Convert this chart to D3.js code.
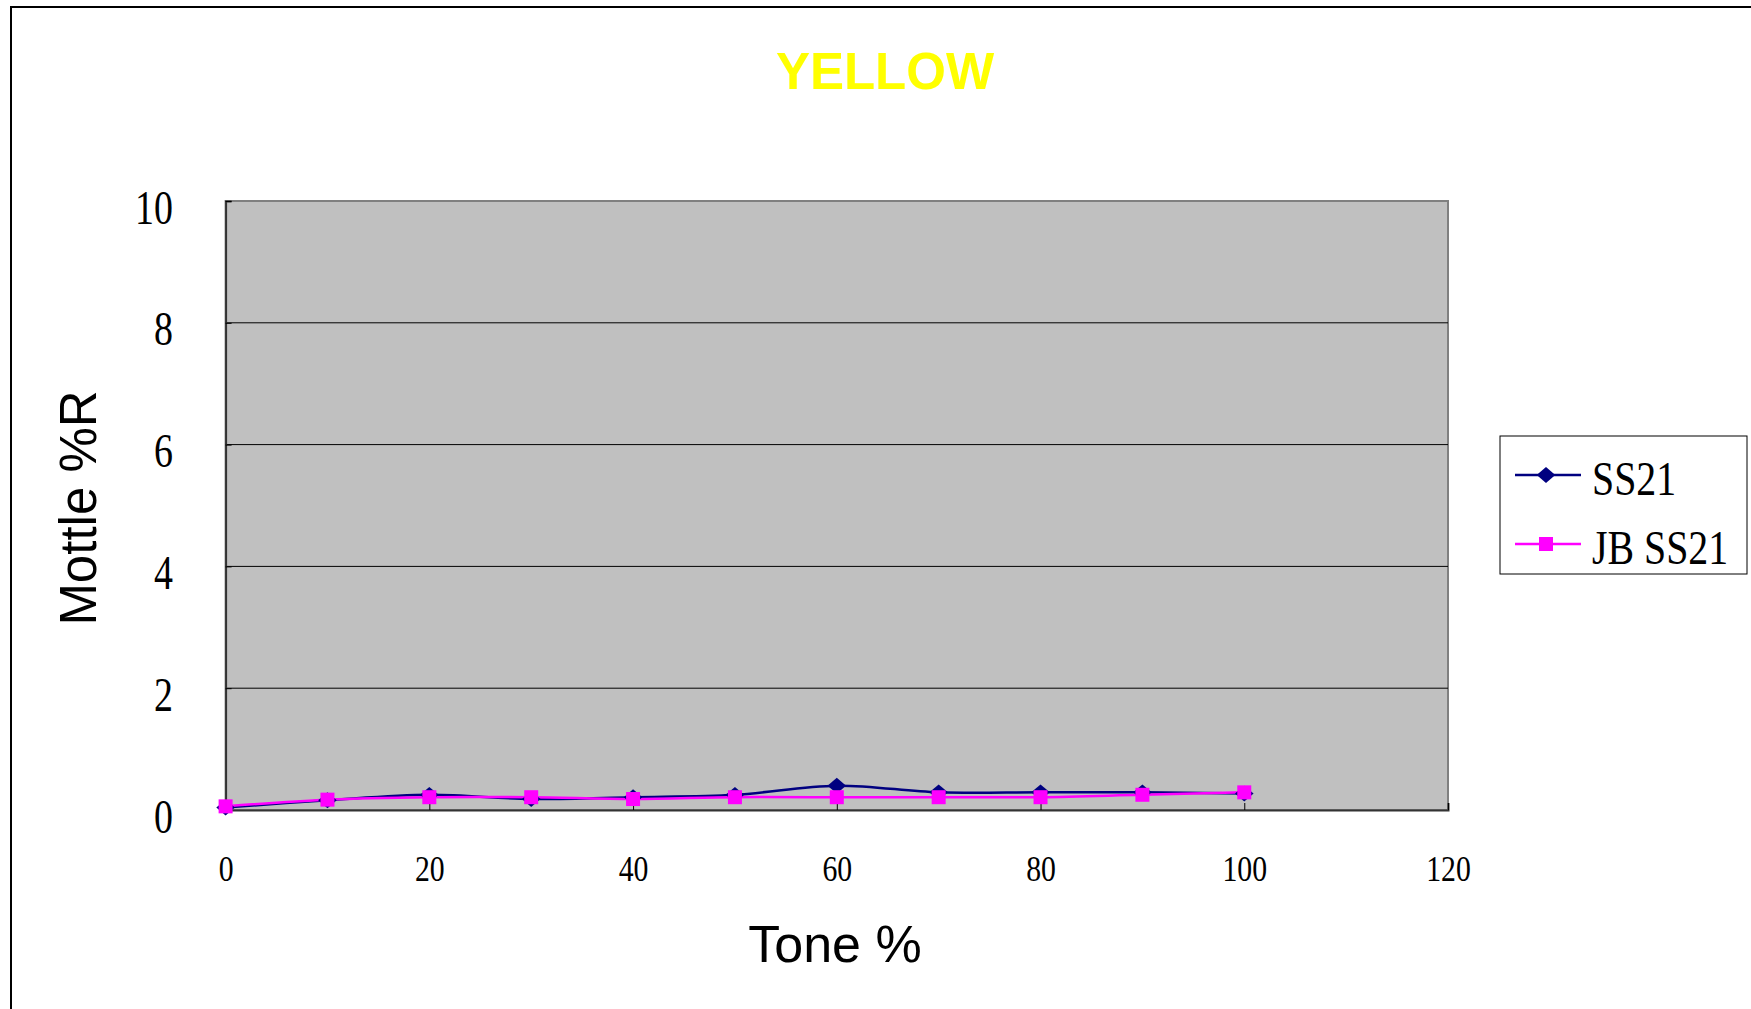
<!DOCTYPE html>
<html>
<head>
<meta charset="utf-8">
<script src="https://cdn.jsdelivr.net/npm/d3@7"></script>
<style>
  html, body { margin: 0; padding: 0; background: #fff; }
  svg { display: block; }
</style>
</head>
<body>
<script>
// ---- Data ----
const tone = [0, 10, 20, 30, 40, 50, 60, 70, 80, 90, 100];
const ss21 = [0.04, 0.16, 0.25, 0.18, 0.21, 0.25, 0.40, 0.29, 0.29, 0.29, 0.27];
const jbSs21 = [0.06, 0.17, 0.21, 0.21, 0.18, 0.21, 0.21, 0.21, 0.21, 0.25, 0.29];
const seriesNames = ["SS21", "JB SS21"];
const seriesColors = ["#000080", "#FF00FF"];
const xTicks = [0, 20, 40, 60, 80, 100, 120];
const yTicks = [0, 2, 4, 6, 8, 10];
const titleText = "YELLOW";
const xLabel = "Tone %";
const yLabel = "Mottle %R";

// ---- Layout ----
const W = 1751, H = 1009;
const plot = { left: 225.6, right: 1448, top: 201, bottom: 810 };

const svg = d3.select("body").append("svg").attr("width", W).attr("height", H);

// Outer frame
svg.append("rect").attr("x", 11).attr("y", 7).attr("width", W + 20).attr("height", H + 20)
  .attr("fill", "#fff").attr("stroke", "#000").attr("stroke-width", 2);

const x = d3.scaleLinear().domain([0, 120]).range([plot.left, plot.right]);
const y = d3.scaleLinear().domain([0, 10]).range([plot.bottom, plot.top]);

// Plot background
svg.append("rect").attr("x", plot.left).attr("y", plot.top)
  .attr("width", plot.right - plot.left).attr("height", plot.bottom - plot.top)
  .attr("fill", "#C0C0C0").attr("stroke", "#808080").attr("stroke-width", 2);

// Gridlines
svg.append("g").selectAll("line").data(yTicks.filter(d => d > 0 && d < 10)).join("line")
  .attr("x1", plot.left).attr("x2", plot.right)
  .attr("y1", d => y(d)).attr("y2", d => y(d))
  .attr("stroke", "#000").attr("stroke-width", 1);

// Axes
const serif = "'Liberation Serif', 'DejaVu Serif', serif";
const yAxis = svg.append("g").attr("transform", `translate(${plot.left},0)`)
  .call(d3.axisLeft(y).tickValues(yTicks).tickSize(-6).tickPadding(0).tickFormat(d3.format("d")));
yAxis.select(".domain").attr("stroke", "#333").attr("stroke-width", 2);
yAxis.selectAll(".tick line").attr("stroke", "#000");
const ySx = 0.79;
yAxis.selectAll(".tick text")
  .attr("font-family", serif).attr("font-size", 48).attr("fill", "#000")
  .attr("text-anchor", "end").attr("dy", null)
  .attr("transform", `scale(${ySx},1)`)
  .attr("x", -52.6 / ySx).attr("y", 22);

const xAxis = svg.append("g").attr("transform", `translate(0,${plot.bottom})`)
  .call(d3.axisBottom(x).tickValues(xTicks).tickSize(-7).tickPadding(0).tickFormat(d3.format("d")));
xAxis.select(".domain").attr("stroke", "#333").attr("stroke-width", 2);
xAxis.selectAll(".tick line").attr("stroke", "#000");
const xSx = 0.85;
xAxis.selectAll(".tick text")
  .attr("font-family", serif).attr("font-size", 35).attr("fill", "#000")
  .attr("text-anchor", "middle").attr("dy", null)
  .attr("transform", `scale(${xSx},1)`)
  .attr("y", 71);

// Series
const series = [ss21, jbSs21];
const line = d3.line().x((d, i) => x(tone[i])).y(d => y(d)).curve(d3.curveCatmullRom.alpha(0.5));
series.forEach((vals, si) => {
  svg.append("path").datum(vals).attr("d", line)
    .attr("fill", "none").attr("stroke", seriesColors[si]).attr("stroke-width", 2.5);
});
// markers: diamonds for SS21 then squares for JB SS21
const diamond = d3.symbol().type(d3.symbolDiamond2).size(220);
svg.append("g").selectAll("path").data(ss21).join("path")
  .attr("d", diamond)
  .attr("transform", (d, i) => `translate(${x(tone[i])},${y(d)}) scale(1,0.85)`)
  .attr("fill", seriesColors[0]);
svg.append("g").selectAll("rect").data(jbSs21).join("rect")
  .attr("x", (d, i) => x(tone[i]) - 7).attr("y", d => y(d) - 7)
  .attr("width", 14).attr("height", 14)
  .attr("fill", seriesColors[1]);

// Title
svg.append("text").attr("x", 885).attr("y", 89).attr("text-anchor", "middle")
  .attr("font-family", "'Liberation Sans', Arial, sans-serif").attr("font-weight", "bold")
  .attr("font-size", 51).attr("fill", "#FFFF00").text(titleText);

// Axis titles
svg.append("text").attr("x", 835).attr("y", 962).attr("text-anchor", "middle")
  .attr("font-family", "'Liberation Sans', Arial, sans-serif")
  .attr("font-size", 52).attr("fill", "#000").text(xLabel);
svg.append("text").attr("transform", "translate(96,508) rotate(-90)").attr("text-anchor", "middle")
  .attr("font-family", "'Liberation Sans', Arial, sans-serif")
  .attr("font-size", 51).attr("fill", "#000").text(yLabel);

// Legend
const lg = svg.append("g");
lg.append("rect").attr("x", 1500).attr("y", 436).attr("width", 247).attr("height", 138)
  .attr("fill", "#fff").attr("stroke", "#000").attr("stroke-width", 1);
const legY = [475, 544];
const lSx = 0.83;
seriesNames.forEach((name, i) => {
  lg.append("line").attr("x1", 1515).attr("x2", 1581).attr("y1", legY[i]).attr("y2", legY[i])
    .attr("stroke", seriesColors[i]).attr("stroke-width", 2.5);
  if (i === 0) {
    lg.append("path").attr("d", diamond)
      .attr("transform", `translate(1546,${legY[i]}) scale(1,0.85)`).attr("fill", seriesColors[i]);
  } else {
    lg.append("rect").attr("x", 1546 - 7).attr("y", legY[i] - 7).attr("width", 14).attr("height", 14)
      .attr("fill", seriesColors[i]);
  }
  lg.append("text").attr("transform", `translate(1592,${legY[i] + 20}) scale(${lSx},1)`)
    .attr("font-family", serif).attr("font-size", 48).attr("fill", "#000").text(name);
});
</script>
</body>
</html>
